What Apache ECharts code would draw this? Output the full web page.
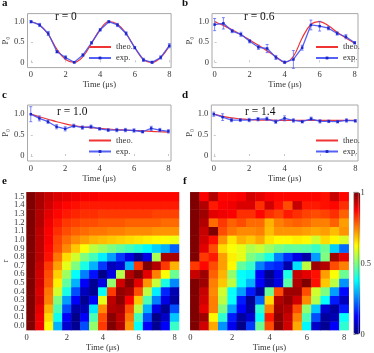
<!DOCTYPE html>
<html>
<head>
<meta charset="utf-8">
<script src="https://cdn.jsdelivr.net/npm/echarts@6/dist/echarts.min.js"></script>
<style>
html, body { margin: 0; padding: 0; background: #fff; }
#chart { width: 374px; height: 353px; }
</style>
</head>
<body>
<div id="chart"></div>
<script>
// time samples (µs) shared by every panel
const times = [0, 0.5, 1, 1.5, 2, 2.5, 3, 3.5, 4, 4.5, 5, 5.5, 6, 6.5, 7, 7.5, 8];

// a: r = 0
const theoA = [1.0, 0.92, 0.69, 0.32, 0.07, 0.0, 0.14, 0.47, 0.81, 1.0, 0.94, 0.71, 0.36, 0.07, 0.0, 0.12, 0.41];
const expA = [1.0, 0.92, 0.71, 0.26, 0.12, 0.0, 0.18, 0.48, 0.8, 1.0, 0.92, 0.71, 0.36, 0.06, 0.0, 0.12, 0.41];
const errA = [0.03, 0.04, 0.05, 0.03, 0.04, 0.02, 0.03, 0.03, 0.03, 0.03, 0.04, 0.04, 0.03, 0.04, 0.03, 0.04, 0.05];
// b: r = 0.6
const theoB = [1.0, 0.91, 0.8, 0.68, 0.55, 0.42, 0.28, 0.14, 0.0, 0.15, 0.6, 0.93, 1.0, 0.9, 0.74, 0.6, 0.47];
const expB = [0.93, 0.96, 0.77, 0.69, 0.52, 0.37, 0.34, 0.12, 0.0, 0.07, 0.36, 0.92, 0.89, 0.84, 0.71, 0.63, 0.48];
const errB = [0.15, 0.14, 0.04, 0.05, 0.04, 0.05, 0.1, 0.05, 0.03, 0.22, 0.06, 0.12, 0.12, 0.04, 0.04, 0.05, 0.03];
// c: r = 1.0
const theoC = [1.0, 0.94, 0.88, 0.82, 0.77, 0.73, 0.7, 0.68, 0.66, 0.645, 0.63, 0.62, 0.61, 0.6, 0.59, 0.58, 0.57];
const expC = [1.0, 0.9, 0.82, 0.7, 0.65, 0.72, 0.68, 0.7, 0.65, 0.62, 0.62, 0.62, 0.61, 0.58, 0.66, 0.62, 0.59];
const errC = [0.18, 0.06, 0.04, 0.05, 0.05, 0.04, 0.04, 0.04, 0.03, 0.03, 0.04, 0.04, 0.04, 0.03, 0.05, 0.04, 0.04];
// d: r = 1.4
const theoD = [1.0, 0.95, 0.91, 0.89, 0.87, 0.86, 0.86, 0.855, 0.85, 0.85, 0.85, 0.85, 0.85, 0.85, 0.85, 0.85, 0.85];
const expD = [1.0, 0.93, 0.86, 0.86, 0.86, 0.88, 0.89, 0.82, 0.9, 0.85, 0.82, 0.89, 0.83, 0.83, 0.82, 0.85, 0.84];
const errD = [0.05, 0.08, 0.04, 0.03, 0.04, 0.04, 0.04, 0.04, 0.06, 0.04, 0.03, 0.04, 0.04, 0.03, 0.03, 0.04, 0.03];

const panelLabels = ['r = 0', 'r = 0.6', 'r = 1.0', 'r = 1.4'];

// heatmaps: rows r = 0.0 .. 1.5, columns = times
const tLabels = times.map(String);
const rLabels = ['0.0', '0.1', '0.2', '0.3', '0.4', '0.5', '0.6', '0.7', '0.8', '0.9', '1.0', '1.1', '1.2', '1.3', '1.4', '1.5'];

const theoryMap = [
    [1.0, 0.89, 0.63, 0.3, 0.08, 0.02, 0.2, 0.52, 0.82, 1.0, 0.95, 0.73, 0.38, 0.12, 0.02, 0.12, 0.43],
    [1.0, 0.89, 0.66, 0.39, 0.12, 0.01, 0.12, 0.45, 0.8, 0.99, 0.94, 0.76, 0.44, 0.2, 0.01, 0.07, 0.32],
    [1.0, 0.9, 0.7, 0.45, 0.2, 0.04, 0.05, 0.35, 0.74, 0.95, 0.96, 0.8, 0.56, 0.3, 0.1, 0.02, 0.2],
    [1.0, 0.92, 0.75, 0.5, 0.28, 0.12, 0.02, 0.12, 0.6, 0.94, 0.99, 0.88, 0.68, 0.45, 0.25, 0.1, 0.03],
    [1.0, 0.91, 0.76, 0.58, 0.4, 0.2, 0.06, 0.02, 0.38, 0.82, 0.98, 0.96, 0.8, 0.56, 0.36, 0.16, 0.05],
    [1.0, 0.92, 0.79, 0.64, 0.47, 0.3, 0.12, 0.02, 0.1, 0.52, 0.92, 1.0, 0.9, 0.73, 0.57, 0.4, 0.26],
    [1.0, 0.92, 0.8, 0.67, 0.53, 0.38, 0.25, 0.14, 0.01, 0.1, 0.55, 0.95, 1.0, 0.9, 0.75, 0.62, 0.48],
    [1.0, 0.93, 0.82, 0.72, 0.6, 0.5, 0.4, 0.3, 0.18, 0.06, 0.08, 0.3, 0.82, 1.0, 0.95, 0.82, 0.7],
    [1.0, 0.94, 0.86, 0.76, 0.66, 0.58, 0.5, 0.44, 0.36, 0.28, 0.18, 0.1, 0.02, 0.1, 0.54, 0.96, 0.96],
    [1.0, 0.94, 0.87, 0.8, 0.74, 0.68, 0.62, 0.56, 0.53, 0.5, 0.47, 0.44, 0.41, 0.37, 0.33, 0.3, 0.22],
    [1.0, 0.94, 0.88, 0.81, 0.77, 0.74, 0.72, 0.7, 0.69, 0.68, 0.67, 0.66, 0.65, 0.64, 0.63, 0.62, 0.61],
    [1.0, 0.94, 0.88, 0.83, 0.8, 0.78, 0.77, 0.76, 0.76, 0.75, 0.75, 0.74, 0.74, 0.74, 0.73, 0.73, 0.73],
    [1.0, 0.95, 0.89, 0.85, 0.82, 0.81, 0.8, 0.8, 0.79, 0.79, 0.79, 0.78, 0.78, 0.78, 0.78, 0.77, 0.77],
    [1.0, 0.95, 0.9, 0.87, 0.85, 0.84, 0.83, 0.83, 0.82, 0.82, 0.82, 0.82, 0.82, 0.82, 0.81, 0.81, 0.81],
    [1.0, 0.96, 0.92, 0.89, 0.87, 0.86, 0.85, 0.85, 0.85, 0.85, 0.85, 0.85, 0.85, 0.85, 0.85, 0.85, 0.85],
    [1.0, 0.96, 0.93, 0.91, 0.9, 0.89, 0.88, 0.88, 0.87, 0.87, 0.87, 0.87, 0.87, 0.87, 0.87, 0.87, 0.87],
];

const measuredMap = [
    [1.0, 0.92, 0.71, 0.27, 0.11, 0.01, 0.18, 0.48, 0.8, 1.0, 0.92, 0.71, 0.37, 0.07, 0.02, 0.12, 0.42],
    [1.0, 0.97, 0.63, 0.42, 0.15, 0.03, 0.08, 0.38, 0.85, 0.99, 0.93, 0.75, 0.45, 0.2, 0.03, 0.05, 0.38],
    [1.0, 0.9, 0.75, 0.5, 0.28, 0.12, 0.03, 0.42, 0.75, 0.97, 0.95, 0.8, 0.52, 0.32, 0.08, 0.03, 0.15],
    [1.0, 0.92, 0.75, 0.56, 0.38, 0.15, 0.02, 0.22, 0.66, 0.95, 0.98, 0.92, 0.74, 0.55, 0.38, 0.15, 0.06],
    [1.0, 0.93, 0.74, 0.58, 0.38, 0.28, 0.15, 0.03, 0.48, 0.8, 0.97, 0.97, 0.8, 0.58, 0.5, 0.28, 0.13],
    [1.0, 0.97, 0.75, 0.68, 0.56, 0.38, 0.3, 0.12, 0.03, 0.1, 0.46, 0.95, 1.0, 0.86, 0.68, 0.56, 0.27],
    [0.93, 0.97, 0.78, 0.7, 0.52, 0.38, 0.36, 0.12, 0.01, 0.1, 0.4, 0.93, 0.9, 0.86, 0.72, 0.62, 0.48],
    [0.82, 0.87, 0.8, 0.72, 0.63, 0.47, 0.43, 0.25, 0.18, 0.16, 0.04, 0.35, 0.56, 0.97, 0.95, 0.8, 0.75],
    [1.0, 0.82, 0.85, 0.72, 0.64, 0.6, 0.5, 0.46, 0.4, 0.25, 0.17, 0.1, 0.04, 0.28, 0.5, 0.97, 0.9],
    [1.0, 0.9, 0.8, 0.66, 0.62, 0.6, 0.55, 0.57, 0.53, 0.49, 0.47, 0.47, 0.46, 0.43, 0.48, 0.33, 0.23],
    [1.0, 0.92, 0.86, 0.73, 0.65, 0.7, 0.68, 0.71, 0.65, 0.63, 0.63, 0.64, 0.63, 0.58, 0.66, 0.63, 0.59],
    [1.0, 0.93, 1.0, 0.8, 0.76, 0.74, 0.74, 0.75, 0.69, 0.73, 0.73, 0.73, 0.72, 0.71, 0.72, 0.69, 0.73],
    [1.0, 0.95, 0.77, 0.82, 0.78, 0.8, 0.77, 0.77, 0.7, 0.75, 0.77, 0.78, 0.77, 0.75, 0.75, 0.78, 0.72],
    [1.0, 0.97, 0.9, 0.89, 0.88, 0.83, 0.83, 0.87, 0.83, 0.81, 0.85, 0.83, 0.81, 0.8, 0.81, 0.83, 0.78],
    [1.0, 0.95, 0.85, 0.88, 0.89, 0.91, 0.91, 0.83, 0.92, 0.86, 0.8, 0.93, 0.85, 0.85, 0.86, 0.87, 0.83],
    [1.0, 0.88, 0.95, 0.87, 0.87, 0.88, 0.92, 0.9, 0.88, 0.87, 0.87, 0.87, 0.87, 0.87, 0.86, 0.93, 0.87],
];

const colorbarTicks = [0, 0.5, 1];

// layout
const font = "'Liberation Serif', 'DejaVu Serif', serif";
const textColor = '#333';
const frameColor = '#a8a8a8';
const red = '#f03434';
const blue = '#4250f4';
const jet = ['#00007f', '#0000ff', '#007fff', '#00ffff', '#7fff7f', '#ffff00', '#ff7f00', '#ff0000', '#7f0000'];

const lineBoxes = [
    {left: 25.5, top: 13.6, width: 145.6, height: 54, x: [-0.2, 8.1], y: [-0.13, 1.2], tag: [55, 11]},
    {left: 212, top: 13.6, width: 146, height: 54, x: [-0.15, 8.19], y: [-0.13, 1.2], tag: [244, 11]},
    {left: 25, top: 105, width: 146, height: 56, x: [-0.19, 8.15], y: [-0.12, 1.22], tag: [57, 106]},
    {left: 211.3, top: 105, width: 146.7, height: 56, x: [-0.14, 8.15], y: [-0.12, 1.22], tag: [245, 106]},
];
const legendPos = [[88, 42.5], [315, 42.5], [88, 136], [315, 136]];
const panelData = [
    {theo: theoA, exp: expA, err: errA},
    {theo: theoB, exp: expB, err: errB},
    {theo: theoC, exp: expC, err: errC},
    {theo: theoD, exp: expD, err: errD},
];

const smallText = {fontFamily: font, fontSize: 8.5, color: textColor};

const grids = [];
const xAxes = [];
const yAxes = [];
const series = [];

lineBoxes.forEach((b, i) => {
    grids.push({left: b.left, top: b.top, width: b.width, height: b.height,
        show: true, borderColor: frameColor, borderWidth: 1, backgroundColor: 'transparent'});
    xAxes.push({
        type: 'value', gridIndex: i, min: b.x[0], max: b.x[1],
        axisLine: {show: false}, splitLine: {show: false},
        axisTick: {inside: true, length: 2, lineStyle: {color: '#c8c8c8'}, customValues: [0, 2, 4, 6, 8]},
        axisLabel: {...smallText, margin: 3, customValues: [0, 2, 4, 6, 8]},
        name: 'Time (μs)', nameLocation: 'middle', nameGap: 11,
        nameTextStyle: {...smallText},
    });
    yAxes.push({
        type: 'value', gridIndex: i, min: b.y[0], max: b.y[1],
        axisLine: {show: false}, splitLine: {show: false},
        axisTick: {inside: true, length: 2, lineStyle: {color: '#c8c8c8'}, customValues: [0, 0.5, 1]},
        axisLabel: {...smallText, margin: 3, customValues: [0, 0.5, 1],
            formatter: v => (v === 0 ? '0' : v.toFixed(1))},
        name: 'P₀', nameLocation: 'middle', nameRotate: 90, nameGap: 13,
        nameTextStyle: {...smallText},
    });
});

// heatmap grids e, f and colorbar axis
grids.push({left: 20.5, top: 192.3, width: 158.5, height: 142});
grids.push({left: 190.3, top: 192.3, width: 158.4, height: 142});
grids.push({left: 353.7, top: 192.3, width: 6.6, height: 142, show: true,
    borderColor: '#888', borderWidth: 0.6, backgroundColor: 'transparent', z: 6});

[4, 5].forEach(gi => {
    xAxes.push({
        type: 'category', gridIndex: gi, data: tLabels,
        axisLine: {show: false}, axisTick: {show: false}, splitLine: {show: false},
        axisLabel: {...smallText, margin: 3, interval: 3,
            formatter: (v, idx) => (idx === 0 ? '{z|0}' : v),
            rich: {z: {...smallText, padding: [0, 9, 0, 0]}}},
        name: 'Time (μs)', nameLocation: 'middle', nameGap: 12,
        nameTextStyle: {...smallText},
    });
    yAxes.push({
        type: 'category', gridIndex: gi, data: rLabels,
        axisLine: {show: false}, axisTick: {show: false}, splitLine: {show: false},
        axisLabel: {...smallText, show: gi === 4, interval: 0, margin: 2},
        name: gi === 4 ? 'r' : '', nameLocation: 'middle', nameRotate: 90, nameGap: 14,
        nameTextStyle: {...smallText},
    });
});
xAxes.push({type: 'value', gridIndex: 6, min: 0, max: 1, show: false});
yAxes.push({
    type: 'value', gridIndex: 6, min: 0, max: 1, position: 'right',
    axisLine: {show: false}, splitLine: {show: false},
    axisTick: {show: true, length: 2, lineStyle: {color: '#888'}, customValues: colorbarTicks},
    axisLabel: {...smallText, margin: 2, customValues: colorbarTicks, formatter: v => String(v)},
});

// line panels
panelData.forEach((p, i) => {
    series.push({
        name: 'theo.', type: 'line', xAxisIndex: i, yAxisIndex: i, smooth: 0.4,
        symbol: 'none', lineStyle: {color: red, width: 1.2}, itemStyle: {color: red},
        data: times.map((t, k) => [t, p.theo[k]]), z: 2, silent: true,
    });
    series.push({
        name: 'exp.', type: 'line', xAxisIndex: i, yAxisIndex: i,
        symbol: 'rect', symbolSize: 2.5, lineStyle: {color: blue, width: 1.3, opacity: 0.9},
        itemStyle: {color: '#1a26c8'},
        data: times.map((t, k) => [t, p.exp[k]]), z: 3, silent: true,
    });
    series.push({
        type: 'custom', xAxisIndex: i, yAxisIndex: i, silent: true, z: 3,
        data: times.map((t, k) => [t, p.exp[k], p.err[k]]),
        encode: {x: 0, y: 1},
        renderItem: (params, api) => {
            const x = api.value(0);
            const y = api.value(1);
            const e = api.value(2);
            const hi = api.coord([x, y + e]);
            const lo = api.coord([x, y - e]);
            const st = {stroke: blue, lineWidth: 0.8, opacity: 0.85};
            return {
                type: 'group',
                children: [
                    {type: 'line', shape: {x1: hi[0], y1: hi[1], x2: lo[0], y2: lo[1]}, style: st},
                    {type: 'line', shape: {x1: hi[0] - 1.5, y1: hi[1], x2: hi[0] + 1.5, y2: hi[1]}, style: st},
                    {type: 'line', shape: {x1: lo[0] - 1.5, y1: lo[1], x2: lo[0] + 1.5, y2: lo[1]}, style: st},
                ],
            };
        },
    });
});

const toCells = (map) => {
    const cells = [];
    map.forEach((row, ri) => row.forEach((v, ci) => cells.push([ci, ri, v])));
    return cells;
};
series.push({type: 'heatmap', xAxisIndex: 4, yAxisIndex: 4, data: toCells(theoryMap),
    emphasis: {disabled: true}, silent: true});
series.push({type: 'heatmap', xAxisIndex: 5, yAxisIndex: 5, data: toCells(measuredMap),
    emphasis: {disabled: true}, silent: true});

const letterStyle = {fontFamily: font, fontSize: 11, fontWeight: 'bold', color: '#111'};
const titles = [
    ['a', 2, -2], ['b', 182, -2], ['c', 2, 90], ['d', 182, 90], ['e', 2, 176], ['f', 183, 176],
].map(([text, left, top]) => ({text, left, top, padding: 0, textStyle: letterStyle}));
lineBoxes.forEach((b, i) => {
    titles.push({text: panelLabels[i], left: b.tag[0], top: b.tag[1], padding: 0,
        textStyle: {fontFamily: font, fontSize: 11.5, fontWeight: 'normal', color: '#111'}});
});

// legend: plain red line for theory, blue line with a small marker for data
const legends = legendPos.map(([left, top]) => ({
    data: [{name: 'theo.', itemStyle: {opacity: 0}}, {name: 'exp.'}],
    left, top, orient: 'vertical', padding: 0,
    itemWidth: 22, itemHeight: 3.5, itemGap: 2, selectedMode: false,
    textStyle: {fontFamily: font, fontSize: 8.5, color: textColor},
}));

const chart = echarts.init(document.getElementById('chart'), null, {renderer: 'canvas'});
chart.setOption({
    animation: false,
    backgroundColor: '#fff',
    title: titles,
    legend: legends,
    grid: grids,
    xAxis: xAxes,
    yAxis: yAxes,
    visualMap: {
        type: 'continuous', min: 0, max: 1, seriesIndex: [12, 13], calculable: false,
        orient: 'vertical', left: 353.7, top: 192.3, itemWidth: 6.6, itemHeight: 142,
        padding: 0, inRange: {color: jet}, hoverLink: false,
    },
    series,
});
</script>
</body>
</html>
